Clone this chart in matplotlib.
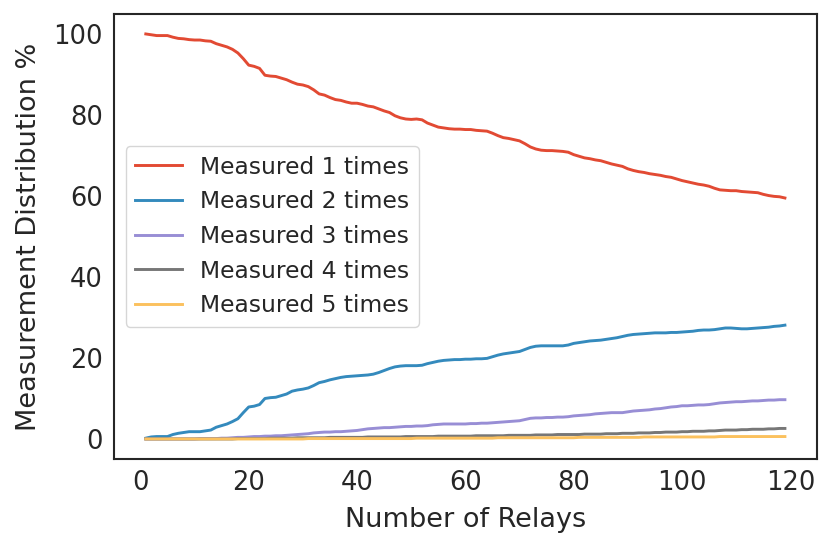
#!/usr/bin/env python3
"""
Measurement distribution vs number of relays.
"""

import numpy as np
import matplotlib
matplotlib.use("Agg")
import matplotlib.pyplot as plt

# number of relays: 1..119
relays = list(range(1, 120))

measured_1 = [
    100.0, 99.8, 99.6, 99.6, 99.6, 99.2, 98.9, 98.8, 98.6, 98.5,
    98.5, 98.3, 98.2, 97.6, 97.2, 96.8, 96.2, 95.3, 93.9, 92.3,
    92.0, 91.5, 89.8, 89.6, 89.5, 89.1, 88.7, 88.1, 87.6, 87.4,
    87.0, 86.2, 85.2, 84.9, 84.3, 83.8, 83.6, 83.2, 82.9, 82.9,
    82.6, 82.2, 82.0, 81.5, 81.0, 80.6, 79.8, 79.3, 79.0, 78.9,
    79.0, 78.8, 78.0, 77.5, 77.0, 76.8, 76.6, 76.5, 76.5, 76.4,
    76.4, 76.2, 76.1, 76.0, 75.5, 74.9, 74.4, 74.2, 73.9, 73.6,
    72.9, 72.1, 71.6, 71.3, 71.2, 71.2, 71.1, 71.0, 70.8, 70.2,
    69.8, 69.4, 69.2, 68.9, 68.7, 68.3, 67.9, 67.6, 67.3, 66.7,
    66.3, 66.0, 65.8, 65.5, 65.3, 65.1, 64.8, 64.6, 64.2, 63.8,
    63.5, 63.2, 62.9, 62.7, 62.4, 61.9, 61.5, 61.4, 61.3, 61.3,
    61.1, 61.0, 60.9, 60.8, 60.4, 60.1, 59.9, 59.8, 59.5,
]

measured_2 = [
    0.2, 0.5, 0.6, 0.6, 0.6, 1.1, 1.4, 1.6, 1.8, 1.8,
    1.8, 2.0, 2.2, 2.9, 3.3, 3.7, 4.3, 5.0, 6.5, 7.9,
    8.1, 8.5, 10.0, 10.2, 10.3, 10.7, 11.1, 11.8, 12.1, 12.3,
    12.6, 13.2, 13.9, 14.2, 14.6, 14.9, 15.2, 15.4, 15.5, 15.6,
    15.7, 15.8, 16.0, 16.4, 16.9, 17.4, 17.8, 18.0, 18.1, 18.1,
    18.1, 18.2, 18.6, 18.9, 19.2, 19.4, 19.5, 19.6, 19.6, 19.7,
    19.7, 19.8, 19.8, 19.9, 20.3, 20.7, 21.0, 21.2, 21.4, 21.6,
    22.1, 22.6, 22.9, 23.0, 23.0, 23.0, 23.0, 23.0, 23.2, 23.6,
    23.8, 24.0, 24.2, 24.3, 24.4, 24.6, 24.8, 25.0, 25.3, 25.6,
    25.8, 25.9, 26.0, 26.1, 26.2, 26.2, 26.2, 26.3, 26.3, 26.4,
    26.5, 26.6, 26.8, 26.9, 26.9, 27.0, 27.2, 27.4, 27.4, 27.3,
    27.2, 27.2, 27.3, 27.4, 27.5, 27.6, 27.8, 27.9, 28.1,
]

measured_3 = [
    0.0, 0.0, 0.0, 0.0, 0.0, 0.0, 0.0, 0.0, 0.0, 0.0,
    0.1, 0.1, 0.1, 0.1, 0.2, 0.2, 0.3, 0.4, 0.4, 0.5,
    0.6, 0.6, 0.7, 0.7, 0.8, 0.8, 0.9, 1.0, 1.1, 1.2,
    1.3, 1.5, 1.6, 1.7, 1.7, 1.8, 1.8, 1.9, 2.0, 2.1,
    2.3, 2.5, 2.6, 2.7, 2.8, 2.8, 2.9, 3.0, 3.1, 3.1,
    3.2, 3.2, 3.3, 3.5, 3.6, 3.7, 3.7, 3.7, 3.7, 3.7,
    3.8, 3.8, 3.9, 3.9, 4.0, 4.1, 4.2, 4.3, 4.4, 4.5,
    4.8, 5.1, 5.2, 5.2, 5.3, 5.3, 5.4, 5.4, 5.5, 5.7,
    5.8, 5.9, 6.0, 6.2, 6.3, 6.4, 6.5, 6.5, 6.5, 6.7,
    6.9, 7.0, 7.1, 7.2, 7.4, 7.5, 7.7, 7.9, 8.0, 8.2,
    8.2, 8.3, 8.4, 8.4, 8.5, 8.7, 8.9, 9.0, 9.1, 9.2,
    9.2, 9.3, 9.4, 9.4, 9.5, 9.6, 9.6, 9.7, 9.7,
]

measured_4 = [
    0.0, 0.0, 0.0, 0.0, 0.0, 0.0, 0.0, 0.0, 0.0, 0.0,
    0.0, 0.0, 0.0, 0.0, 0.0, 0.0, 0.0, 0.1, 0.1, 0.1,
    0.1, 0.1, 0.1, 0.2, 0.2, 0.2, 0.2, 0.2, 0.3, 0.3,
    0.3, 0.3, 0.3, 0.3, 0.4, 0.4, 0.4, 0.4, 0.4, 0.4,
    0.4, 0.5, 0.5, 0.5, 0.5, 0.5, 0.5, 0.5, 0.6, 0.6,
    0.6, 0.6, 0.6, 0.6, 0.7, 0.7, 0.7, 0.7, 0.7, 0.7,
    0.7, 0.8, 0.8, 0.8, 0.8, 0.8, 0.8, 0.9, 0.9, 0.9,
    0.9, 0.9, 1.0, 1.0, 1.0, 1.0, 1.1, 1.1, 1.1, 1.1,
    1.1, 1.2, 1.2, 1.2, 1.2, 1.3, 1.3, 1.3, 1.4, 1.4,
    1.4, 1.5, 1.5, 1.5, 1.6, 1.6, 1.7, 1.7, 1.7, 1.8,
    1.8, 1.9, 1.9, 1.9, 2.0, 2.0, 2.1, 2.2, 2.2, 2.2,
    2.3, 2.3, 2.4, 2.4, 2.4, 2.5, 2.5, 2.6, 2.6,
]

measured_5 = [
    0.0, 0.0, 0.0, 0.0, 0.0, 0.0, 0.0, 0.0, 0.0, 0.0,
    0.0, 0.0, 0.0, 0.0, 0.0, 0.0, 0.0, 0.0, 0.0, 0.0,
    0.0, 0.0, 0.0, 0.0, 0.0, 0.0, 0.0, 0.0, 0.0, 0.0,
    0.1, 0.1, 0.1, 0.1, 0.1, 0.1, 0.1, 0.1, 0.1, 0.1,
    0.1, 0.1, 0.1, 0.1, 0.1, 0.1, 0.1, 0.1, 0.1, 0.1,
    0.2, 0.2, 0.2, 0.2, 0.2, 0.2, 0.2, 0.2, 0.2, 0.2,
    0.2, 0.2, 0.2, 0.2, 0.2, 0.3, 0.3, 0.3, 0.3, 0.3,
    0.3, 0.3, 0.3, 0.3, 0.3, 0.3, 0.3, 0.3, 0.3, 0.3,
    0.4, 0.4, 0.4, 0.4, 0.4, 0.4, 0.4, 0.4, 0.4, 0.4,
    0.4, 0.4, 0.5, 0.5, 0.5, 0.5, 0.5, 0.5, 0.5, 0.5,
    0.5, 0.5, 0.5, 0.5, 0.5, 0.5, 0.6, 0.6, 0.6, 0.6,
    0.6, 0.6, 0.6, 0.6, 0.6, 0.6, 0.6, 0.6, 0.6,
]

series = [measured_1, measured_2, measured_3, measured_4, measured_5]
labels = ["Measured %d times" % (i + 1) for i in range(5)]
colors = ["#E24A33", "#348ABD", "#988ED5", "#777777", "#FBC15E"]

for s in series:
    assert len(s) == len(relays)


def main():
    plt.rcParams["font.family"] = ["DejaVu Sans"]
    text_color = "#262626"

    fig = plt.figure(figsize=(8.31, 5.48), dpi=100)
    ax = fig.add_axes([0.137, 0.162, 0.846, 0.813])

    for s, lab, c in zip(series, labels, colors):
        ax.plot(relays, s, color=c, linewidth=2.1, label=lab)

    ax.set_xticks([0, 20, 40, 60, 80, 100, 120])
    ax.set_yticks([0, 20, 40, 60, 80, 100])
    ax.tick_params(axis="both", which="both", length=0, pad=8,
                   labelsize=18.5, colors=text_color)
    ax.set_xlabel("Number of Relays", fontsize=19.5, color=text_color, labelpad=8)
    ax.set_ylabel("Measurement Distribution %", fontsize=19.5, color=text_color, labelpad=8)

    for sp in ax.spines.values():
        sp.set_color(text_color)
        sp.set_linewidth(1.5)

    leg = ax.legend(loc="center left", fontsize=16.8, labelspacing=0.5,
                    frameon=True, fancybox=True, framealpha=0.8)
    leg.get_frame().set_edgecolor("#cccccc")
    for t in leg.get_texts():
        t.set_color(text_color)

    fig.savefig("out.png", dpi=100)


if __name__ == "__main__":
    main()
